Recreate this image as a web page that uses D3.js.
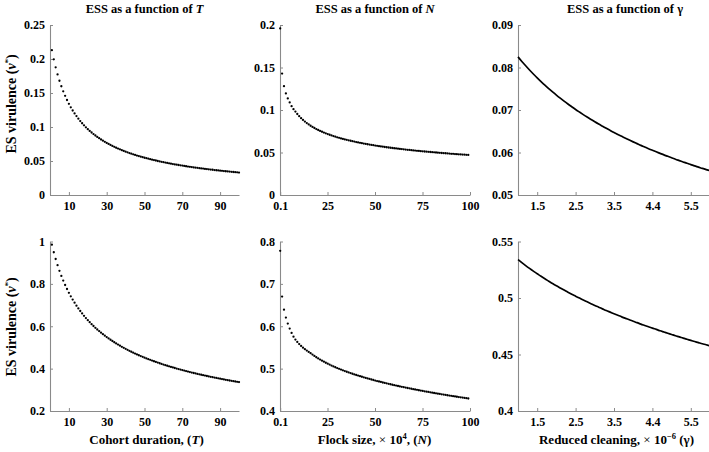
<!DOCTYPE html>
<html><head><meta charset="utf-8">
<script src="https://cdn.jsdelivr.net/npm/d3@7"></script>
<style>
html,body{margin:0;padding:0;background:#fff;}
svg{display:block;}
text{font-family:"Liberation Serif","Times New Roman",serif;font-weight:bold;fill:#000;}
</style></head><body>
<svg id="chart" width="709" height="452"></svg>
<script>
// ---------------- data ----------------
const cohortT = d3.range(1, 101);                 // T = 1 .. 100
const flockN = d3.range(0.1, 100, 1);             // N = 0.1, 1.1, ..., 99.1 (x 10^4)
const cleaningGamma = d3.range(0, 51).map(i => 1 + i / 10); // gamma = 1.0 .. 6.0 (x 10^-6)

const essT_top = [0.2130,0.1995,0.1877,0.1773,0.1680,0.1599,0.1525,0.1458,0.1397,0.1341,
0.1290,0.1243,0.1200,0.1160,0.1122,0.1087,0.1055,0.1024,0.0995,0.0968,
0.0943,0.0919,0.0896,0.0875,0.0854,0.0835,0.0816,0.0799,0.0782,0.0766,
0.0751,0.0736,0.0722,0.0708,0.0695,0.0683,0.0671,0.0659,0.0648,0.0637,
0.0627,0.0617,0.0608,0.0598,0.0589,0.0580,0.0572,0.0564,0.0556,0.0548,
0.0541,0.0534,0.0527,0.0520,0.0513,0.0507,0.0500,0.0494,0.0488,0.0482,
0.0477,0.0471,0.0466,0.0461,0.0455,0.0450,0.0446,0.0441,0.0436,0.0432,
0.0427,0.0423,0.0418,0.0414,0.0410,0.0406,0.0402,0.0399,0.0395,0.0391,
0.0388,0.0384,0.0381,0.0377,0.0374,0.0371,0.0367,0.0364,0.0361,0.0358,
0.0355,0.0352,0.0349,0.0346,0.0344,0.0341,0.0338,0.0336,0.0333,0.0330];

const essT_bottom = [0.9850,0.9493,0.9173,0.8883,0.8618,0.8376,0.8154,0.7948,0.7757,0.7579,
0.7413,0.7257,0.7111,0.6973,0.6843,0.6720,0.6603,0.6493,0.6387,0.6287,
0.6191,0.6099,0.6012,0.5928,0.5847,0.5770,0.5696,0.5624,0.5555,0.5489,
0.5425,0.5363,0.5303,0.5245,0.5189,0.5135,0.5082,0.5031,0.4982,0.4934,
0.4887,0.4841,0.4797,0.4754,0.4712,0.4672,0.4632,0.4593,0.4555,0.4519,
0.4483,0.4448,0.4413,0.4380,0.4347,0.4315,0.4284,0.4253,0.4223,0.4193,
0.4165,0.4136,0.4109,0.4082,0.4055,0.4029,0.4003,0.3978,0.3954,0.3930,
0.3906,0.3883,0.3860,0.3837,0.3815,0.3793,0.3772,0.3751,0.3730,0.3710,
0.3690,0.3670,0.3651,0.3632,0.3613,0.3595,0.3577,0.3559,0.3541,0.3524,
0.3506,0.3490,0.3473,0.3457,0.3440,0.3424,0.3409,0.3393,0.3378,0.3363];

const essN_top = [0.1960,
0.1428,0.1280,0.1195,0.1136,0.1089,0.1045,0.1010,0.0982,0.0953,0.0927,
0.0904,0.0883,0.0864,0.0846,0.0830,0.0815,0.0801,0.0788,0.0776,0.0765,
0.0754,0.0744,0.0735,0.0726,0.0717,0.0709,0.0701,0.0693,0.0686,0.0679,
0.0673,0.0666,0.0660,0.0654,0.0649,0.0643,0.0638,0.0633,0.0628,0.0623,
0.0618,0.0614,0.0610,0.0605,0.0601,0.0597,0.0593,0.0589,0.0586,0.0582,
0.0579,0.0575,0.0572,0.0569,0.0565,0.0562,0.0559,0.0556,0.0553,0.0550,
0.0548,0.0545,0.0542,0.0540,0.0537,0.0535,0.0532,0.0530,0.0527,0.0525,
0.0523,0.0520,0.0518,0.0516,0.0514,0.0512,0.0510,0.0508,0.0506,0.0504,
0.0502,0.0500,0.0498,0.0496,0.0494,0.0492,0.0491,0.0489,0.0487,0.0485,
0.0484,0.0482,0.0480,0.0479,0.0477,0.0476,0.0474,0.0473,0.0471];

const essN_bottom = [0.7780,
0.6700,0.6390,0.6204,0.6063,0.5944,0.5843,0.5755,0.5685,0.5630,0.5580,
0.5535,0.5495,0.5458,0.5425,0.5395,0.5364,0.5331,0.5299,0.5269,0.5241,
0.5214,0.5188,0.5163,0.5139,0.5117,0.5095,0.5073,0.5053,0.5033,0.5014,
0.4995,0.4977,0.4960,0.4943,0.4926,0.4910,0.4895,0.4879,0.4864,0.4850,
0.4835,0.4821,0.4808,0.4794,0.4781,0.4768,0.4756,0.4743,0.4731,0.4719,
0.4707,0.4696,0.4685,0.4673,0.4662,0.4652,0.4641,0.4631,0.4620,0.4610,
0.4600,0.4590,0.4581,0.4571,0.4562,0.4552,0.4543,0.4534,0.4525,0.4516,
0.4507,0.4499,0.4490,0.4482,0.4473,0.4465,0.4457,0.4449,0.4441,0.4433,
0.4425,0.4417,0.4409,0.4402,0.4394,0.4387,0.4379,0.4372,0.4365,0.4358,
0.4350,0.4343,0.4336,0.4329,0.4323,0.4316,0.4309,0.4302,0.4295];

const essG_top = [0.08250,0.08142,0.08040,0.07941,0.07847,0.07756,0.07669,0.07585,0.07505,0.07427,
0.07352,0.07280,0.07210,0.07142,0.07077,0.07013,0.06952,0.06892,0.06834,0.06778,
0.06723,0.06670,0.06619,0.06568,0.06519,0.06471,0.06425,0.06380,0.06335,0.06292,
0.06250,0.06209,0.06168,0.06129,0.06090,0.06053,0.06016,0.05980,0.05944,0.05910,
0.05876,0.05842,0.05810,0.05778,0.05746,0.05716,0.05685,0.05656,0.05626,0.05598,0.05570];

const essG_bottom = [0.5340,0.5313,0.5287,0.5262,0.5238,0.5215,0.5192,0.5170,0.5149,0.5128,
0.5108,0.5089,0.5070,0.5051,0.5033,0.5016,0.4999,0.4982,0.4966,0.4950,
0.4934,0.4919,0.4904,0.4889,0.4875,0.4861,0.4847,0.4833,0.4820,0.4807,
0.4794,0.4782,0.4769,0.4757,0.4745,0.4733,0.4722,0.4710,0.4699,0.4688,
0.4677,0.4666,0.4656,0.4645,0.4635,0.4625,0.4615,0.4605,0.4595,0.4586,0.4576];

// tick values / labels
const ticksT = [10, 30, 50, 70, 90];
const ticksN = [0.1, 25, 50, 75, 100];
const ticksGamma = [1.5, 2.5, 3.5, 4.5, 5.5];
const tickLabelsGamma = ["1.5", "2.5", "3.5", "4.4", "5.5"];
const yTicksTopT = [0, 0.05, 0.1, 0.15, 0.2, 0.25];
const yTicksTopN = [0, 0.05, 0.1, 0.15, 0.2];
const yTicksTopG = [0.05, 0.06, 0.07, 0.08, 0.09];
const yTicksBotT = [0.2, 0.4, 0.6, 0.8, 1];
const yTicksBotN = [0.4, 0.5, 0.6, 0.7, 0.8];
const yTicksBotG = [0.4, 0.45, 0.5, 0.55];

// ---------------- layout ----------------
const svg = d3.select("#chart");
const AXIS = "#8a8a8a";
const cols = [
  {x0: 50, x1: 239, dom: [0, 100], xs: cohortT, xt: ticksT, xl: d => String(d), title: "T", tcx: 144.5},
  {x0: 280, x1: 470, dom: [0, 100], xs: flockN, xt: ticksN, xl: d => String(d), title: "N", tcx: 375},
  {x0: 518, x1: 710, dom: [1, 6], xs: cleaningGamma, xt: ticksGamma, xl: (d, i) => tickLabelsGamma[i], title: "γ", tcx: 625}
];
const rows = [
  {y0: 195, y1: 25, doms: [[0, 0.25], [0, 0.2], [0.05, 0.09]], yt: [yTicksTopT, yTicksTopN, yTicksTopG],
   data: [essT_top, essN_top, essG_top]},
  {y0: 411, y1: 241.5, doms: [[0.2, 1], [0.4, 0.8], [0.4, 0.55]], yt: [yTicksBotT, yTicksBotN, yTicksBotG],
   data: [essT_bottom, essN_bottom, essG_bottom]}
];

rows.forEach((row, ri) => {
  cols.forEach((col, ci) => {
    const x = d3.scaleLinear().domain(col.dom).range([col.x0, col.x1]);
    const y = d3.scaleLinear().domain(row.doms[ci]).range([row.y0, row.y1]);
    const g = svg.append("g");

    const xAxis = d3.axisBottom(x).tickValues(col.xt).tickFormat(col.xl)
      .tickSizeInner(-3).tickSizeOuter(0).tickPadding(6.5);
    const yAxis = d3.axisLeft(y).tickValues(row.yt[ci]).tickFormat(d => String(d))
      .tickSizeInner(-3).tickSizeOuter(0).tickPadding(5);

    const gx = g.append("g").attr("transform", `translate(0,${row.y0})`).call(xAxis);
    const gy = g.append("g").attr("transform", `translate(${col.x0},0)`).call(yAxis);
    [gx, gy].forEach(a => {
      a.select(".domain").attr("stroke", AXIS).attr("stroke-width", 1.1);
      a.selectAll(".tick line").attr("stroke", AXIS);
      a.selectAll(".tick text").attr("font-family", "Liberation Serif, serif")
        .attr("font-weight", "bold").attr("font-size", "12px").attr("fill", "#000");
    });

    const vals = row.data[ci];
    const pts = col.xs.map((xv, i) => [xv, vals[i]]).filter(p => p[1] !== undefined);
    if (ci < 2) {
      g.append("g").selectAll("circle").data(pts).join("circle")
        .attr("cx", d => x(d[0])).attr("cy", d => y(d[1])).attr("r", 1.15).attr("fill", "#000");
    } else {
      g.append("path").datum(pts)
        .attr("d", d3.line().x(d => x(d[0])).y(d => y(d[1])).curve(d3.curveMonotoneX))
        .attr("fill", "none").attr("stroke", "#000").attr("stroke-width", 1.7);
    }

    if (ri === 0) {
      const t = svg.append("text").attr("x", col.tcx).attr("y", 13).attr("text-anchor", "middle")
        .attr("font-size", "12.5px");
      t.append("tspan").text("ESS as a function of ");
      t.append("tspan").attr("font-style", col.title === "γ" ? "normal" : "italic").text(col.title);
    }
  });
});

// y-axis labels
[104, 327].forEach(cy => {
  const t = svg.append("text").attr("transform", `translate(16,${cy}) rotate(-90)`)
    .attr("text-anchor", "middle").attr("font-size", "14px");
  t.append("tspan").text("ES virulence (");
  t.append("tspan").attr("font-style", "italic").text("v");
  t.append("tspan").attr("font-size", "8.5px").attr("dy", "-5").text("*");
  t.append("tspan").attr("dy", "5").text(")");
});

// x-axis labels
{
  const t1 = svg.append("text").attr("x", 146.5).attr("y", 444).attr("text-anchor", "middle").attr("font-size", "13px");
  t1.append("tspan").text("Cohort duration, (");
  t1.append("tspan").attr("font-style", "italic").text("T");
  t1.append("tspan").text(")");

  const t2 = svg.append("text").attr("x", 374.5).attr("y", 444).attr("text-anchor", "middle").attr("font-size", "13px");
  t2.append("tspan").text("Flock size, ");
  t2.append("tspan").attr("font-weight", "normal").text("× ");
  t2.append("tspan").text("10");
  t2.append("tspan").attr("font-size", "8.5px").attr("dy", "-5").text("4");
  t2.append("tspan").attr("dy", "5").text(", (");
  t2.append("tspan").attr("font-style", "italic").text("N");
  t2.append("tspan").text(")");

  const t3 = svg.append("text").attr("x", 616.5).attr("y", 444).attr("text-anchor", "middle").attr("font-size", "13px");
  t3.append("tspan").text("Reduced cleaning, ");
  t3.append("tspan").attr("font-weight", "normal").text("× ");
  t3.append("tspan").text("10");
  t3.append("tspan").attr("font-size", "8.5px").attr("dy", "-5").text("−6");
  t3.append("tspan").attr("dy", "5").text(" (γ)");
}
</script>
</body></html>
